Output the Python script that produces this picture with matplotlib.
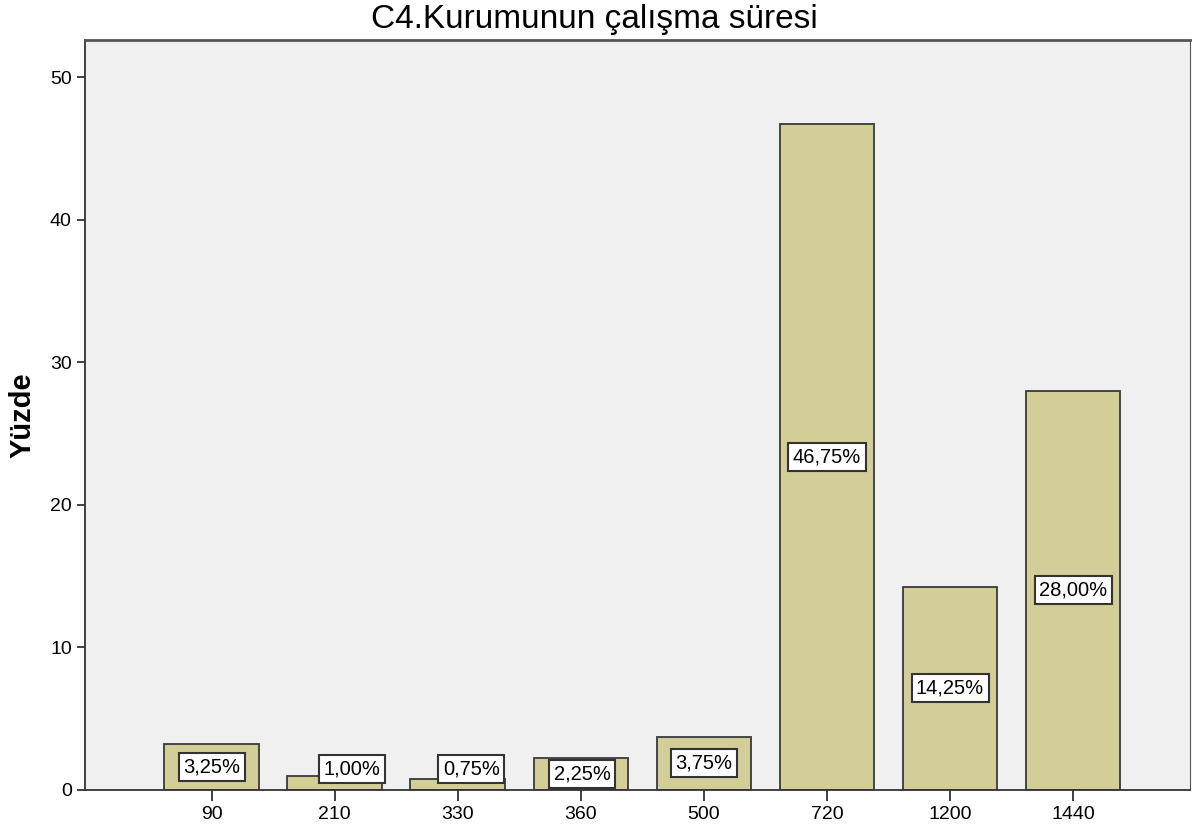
import matplotlib.pyplot as plt
import numpy as np

# data
categories = ['90', '210', '330', '360', '500', '720', '1200', '1440']
percent = [3.25, 1.00, 0.75, 2.25, 3.75, 46.75, 14.25, 28.00]
y_ticks = [0, 10, 20, 30, 40, 50]

plt.rcParams['font.family'] = ['Liberation Sans', 'DejaVu Sans']

fig = plt.figure(figsize=(11.92, 8.34), dpi=100)
ax = fig.add_axes([0.0713, 0.0528, 0.927, 0.899])
ax.set_facecolor('#f0f0f0')

x = np.arange(len(categories))
ax.bar(x, percent, width=0.77, color='#d3ce97', edgecolor='#3a3a3a',
       linewidth=1.3, zorder=2)

# value labels: centred in tall bars, shifted for the small ones
label_dx = [0.0, 0.14, 0.11, 0.01, 0.0, 0.0, 0.0, 0.0]
label_dy = [0, 0, 0, -0.4, 0, 0, 0, 0]
for i, v in enumerate(percent):
    y = max(v / 2, 1.5) + label_dy[i]
    ax.text(i + label_dx[i], y, f"{v:.2f}%".replace('.', ','),
            ha='center', va='center', fontsize=14.5, zorder=3,
            bbox=dict(boxstyle='square,pad=0.22', facecolor='white',
                      edgecolor='#333333', linewidth=1.5))

ax.set_xlim(-1.03, 7.95)
ax.set_ylim(0, 52.6)
ax.set_xticks(x)
ax.set_xticklabels(categories, fontsize=14)
ax.set_yticks(y_ticks)
ax.set_yticklabels([str(t) for t in y_ticks], fontsize=14)
ax.tick_params(axis='x', length=8, width=1.3, color='#333333')
ax.tick_params(axis='y', length=6, width=1.3, color='#333333')

for side in ['left', 'bottom']:
    ax.spines[side].set_linewidth(1.3)
    ax.spines[side].set_color('#333333')
ax.spines['top'].set_linewidth(2)
ax.spines['top'].set_color('#555555')
ax.spines['right'].set_color('#555555')

ax.set_ylabel('Yüzde', fontsize=21, fontweight='bold', labelpad=10)
fig.text(0.499, 0.966, 'C4.Kurumunun çalışma süresi', fontsize=24,
         ha='center', va='baseline')

plt.savefig('out.png', dpi=100)
plt.close()
